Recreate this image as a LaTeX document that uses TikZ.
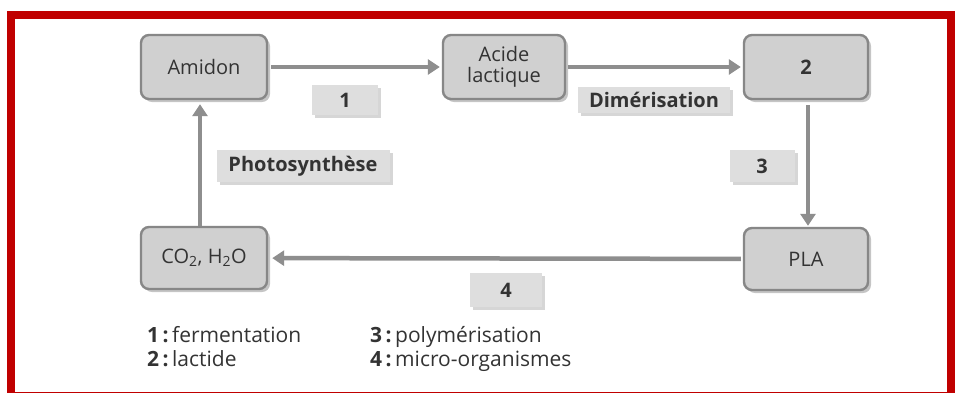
\documentclass[tikz,border=0pt]{standalone}
\usepackage{fontspec}
\setmainfont{Open Sans}
\usetikzlibrary{arrows.meta,shadows}
\definecolor{framered}{HTML}{C00000}
\definecolor{boxfill}{HTML}{D0D0D0}
\definecolor{boxline}{HTML}{878787}
\definecolor{lblfill}{HTML}{DEDEDE}
\definecolor{arrowgray}{HTML}{8E8E8E}
\definecolor{txt}{HTML}{333333}
\tikzset{
  stagebox/.style={draw=boxline, line width=2.4pt, fill=boxfill, rounded corners=8pt,
    minimum width=126pt, minimum height=64pt, align=center, text=txt, inner sep=2pt,
    font=\fontsize{20}{24}\selectfont,
    drop shadow={shadow xshift=3pt, shadow yshift=-3pt, fill=black!50, opacity=0.45}},
  lbl/.style={fill=lblfill, text=txt, inner sep=0pt, font=\fontsize{20}{22}\selectfont\bfseries,
    drop shadow={shadow xshift=3pt, shadow yshift=-3pt, fill=black!40, opacity=0.4}},
  flow/.style={draw=arrowgray, line width=4.5pt, -{Triangle[length=12pt,width=15pt]}},
  legend/.style={text=txt, anchor=base west, inner sep=0pt, font=\fontsize{21}{24}\selectfont}
}
\begin{document}
\begin{tikzpicture}[x=1pt,y=-1pt]
\useasboundingbox (0,0) rectangle (955,392);
\fill[white] (0,0) rectangle (955,392);
\begin{scope}
\clip (0,0) rectangle (955,392);
\draw[framered, line width=8pt] (11,15) rectangle (951,396);
\end{scope}

\node[stagebox] (amidon) at (204,67) {Amidon};
\node[stagebox, minimum width=122pt] (acide) at (504,67) {Acide\\[-3pt]lactique};
\node[stagebox, minimum width=124pt] (n2) at (806,67) {\bfseries 2};
\node[stagebox, minimum width=124pt, minimum height=62pt] (pla) at (806,259) {PLA};
\node[stagebox, minimum height=62pt] (co2) at (204,258) {CO\textsubscript{2}, H\textsubscript{2}O};

\draw[flow, shorten <=3pt, shorten >=2pt] (amidon) -- (acide);
\draw[flow, shorten <=2pt, shorten >=2pt] (acide) -- (n2);
\draw[flow, shorten <=5pt, shorten >=1pt] ([xshift=2pt]n2.south) -- ([xshift=2pt]pla.north);
\draw[flow, shorten <=2pt, shorten >=4pt] (pla) -- (co2);
\draw[flow, shorten <=0pt, shorten >=4pt] ([xshift=-4pt]co2.north) -- ([xshift=-4pt]amidon.south);

\node[lbl, minimum width=66pt, minimum height=30pt] (l1) at (345,100) {1};
\node[lbl, minimum width=173pt, minimum height=32pt] (lphoto) at (303,166) {Photosynthèse};
\node[lbl, minimum width=152pt, minimum height=26pt] (ldim) at (654,100) {Dimérisation};
\node[lbl, minimum width=65pt, minimum height=32pt] (l3) at (762,166) {3};
\node[lbl, minimum width=72pt, minimum height=34pt] (l4) at (506,290) {4};

\node[legend] (g1) at (147,342) {\textbf{1\,:}\,fermentation};
\node[legend] (g2) at (147,366) {\textbf{2\,:}\,lactide};
\node[legend] (g3) at (370,342) {\textbf{3\,:}\,polymérisation};
\node[legend] (g4) at (370,366) {\textbf{4\,:}\,micro-organismes};
\end{tikzpicture}
\end{document}
